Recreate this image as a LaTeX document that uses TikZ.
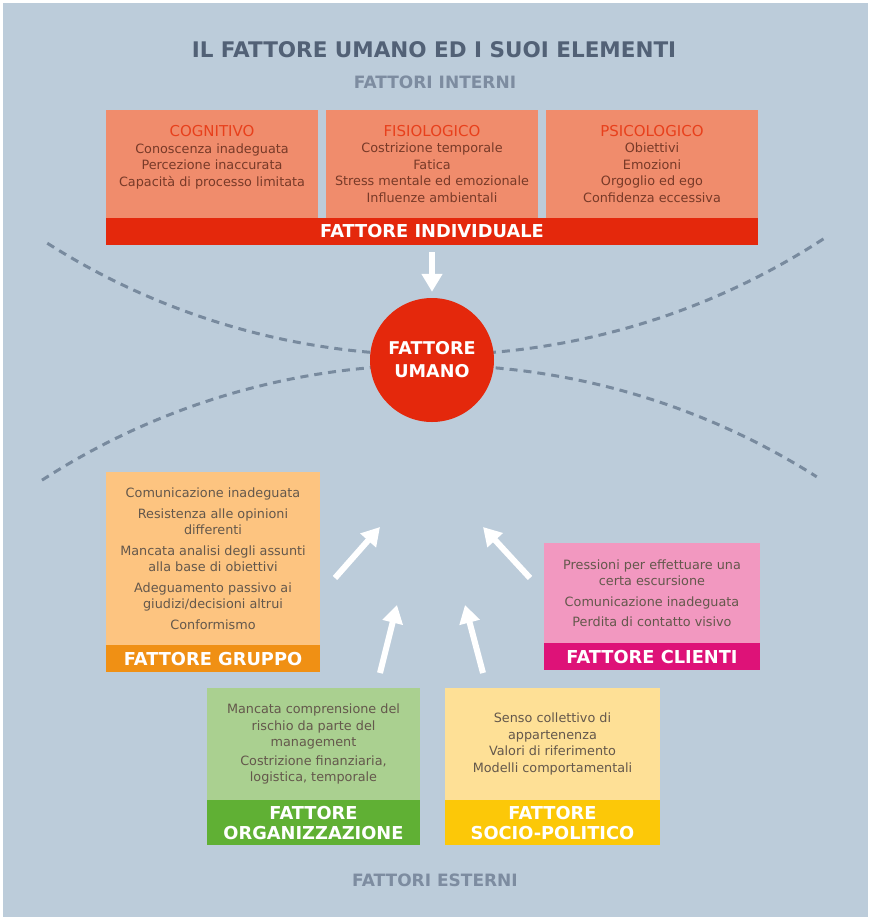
\documentclass[tikz,border=0pt]{standalone}
\usepackage{fontspec}
\setmainfont{DejaVu Sans}
\usetikzlibrary{arrows.meta, positioning}

\definecolor{sfondo}{RGB}{188,204,218}
\definecolor{blutitolo}{RGB}{82,97,118}
\definecolor{bluchiaro}{RGB}{125,140,160}
\definecolor{tratteggio}{RGB}{120,138,158}
\definecolor{salmone}{RGB}{240,140,108}
\definecolor{rosso}{RGB}{228,40,12}
\definecolor{rossotesto}{RGB}{232,64,28}
\definecolor{marrone}{RGB}{120,58,40}
\definecolor{pesca}{RGB}{253,196,128}
\definecolor{arancio}{RGB}{240,144,20}
\definecolor{rosa}{RGB}{242,152,192}
\definecolor{magenta}{RGB}{222,18,120}
\definecolor{verdino}{RGB}{170,208,144}
\definecolor{verde}{RGB}{96,176,52}
\definecolor{giallino}{RGB}{254,224,150}
\definecolor{giallo}{RGB}{252,200,8}
\definecolor{grigiotesto}{RGB}{100,88,76}

\newcommand{\testa}[1]{{\fontsize{15}{16.5}\selectfont\color{rossotesto}#1}}

\tikzset{voce/.style={rectangle, inner sep=0pt, align=center, text=grigiotesto, font=\fontsize{12.8}{16.5}\selectfont}}
\tikzset{interno/.style={voce, fill=salmone, text=marrone, minimum width=212pt, minimum height=108pt}}
\tikzset{fascia/.style={rectangle, inner sep=0pt, text=white, align=center, font=\bfseries\fontsize{17.8}{20}\selectfont}}
\tikzset{freccia/.style={draw=white, line width=6pt, -{Triangle[length=18pt, width=20pt]}}}
\tikzset{confine/.style={draw=tratteggio, line width=3pt, dash pattern=on 8pt off 6pt}}

\begin{document}
\begin{tikzpicture}[x=1pt, y=-1pt]
            \useasboundingbox (0,0) rectangle (870,919);
            \fill[white] (0,0) rectangle (870,919);
            \fill[sfondo] (3,3) rectangle (868,917);
            % titoli
            \node[font=\bfseries\fontsize{21.5}{24}\selectfont, text=blutitolo] (titolo) at (434,50) {IL FATTORE UMANO ED I SUOI ELEMENTI};
            \node[font=\bfseries\fontsize{17}{18}\selectfont, text=bluchiaro] (interni) at (435,82) {FATTORI INTERNI};
            \node[font=\bfseries\fontsize{17}{18}\selectfont, text=bluchiaro] (esterni) at (435,880) {FATTORI ESTERNI};
            % fattori interni
            \node[interno] (cognitivo) at (212,164)
                {\testa{COGNITIVO}\\Conoscenza inadeguata\\Percezione inaccurata\\Capacità di processo limitata\\ \mbox{}};
            \node[interno] (fisiologico) at (432,164)
                {\testa{FISIOLOGICO}\\Costrizione temporale\\Fatica\\Stress mentale ed emozionale\\Influenze ambientali};
            \node[interno] (psicologico) at (652,164)
                {\testa{PSICOLOGICO}\\Obiettivi\\Emozioni\\Orgoglio ed ego\\Confidenza eccessiva};
            \node[fascia, fill=rosso, minimum width=652pt, minimum height=27pt] (individuale) at (432,231.5) {FATTORE INDIVIDUALE};
            % confini
            \draw[confine] (432,-363) ++(122.4:718) arc[start angle=122.4, end angle=56.9, radius=718];
            \draw[confine] (432,1083) ++(-122.9:718) arc[start angle=-122.9, end angle=-57.6, radius=718];
            % centro
            \node[circle, fill=rosso, minimum size=124pt, inner sep=0pt, text=white, align=center,
                font=\bfseries\fontsize{17.6}{23}\selectfont] (umano) at (432,360) {FATTORE\\UMANO};
            \draw[freccia, shorten <=7pt, shorten >=6pt] (individuale.south) -- (umano.north);
            % fattori esterni
            \node[voce, fill=pesca, minimum width=214pt, minimum height=173pt] (gruppo) at (213,558.5)
                {Comunicazione inadeguata\\[4pt]Resistenza alle opinioni\\differenti\\[4pt]Mancata analisi degli assunti\\alla base di obiettivi\\[4pt]Adeguamento passivo ai\\giudizi/decisioni altrui\\[4pt]Conformismo};
            \node[fascia, fill=arancio, minimum width=214pt, minimum height=27pt, below=0pt of gruppo] (gruppobar) {FATTORE GRUPPO};
            \node[voce, fill=rosa, minimum width=216pt, minimum height=100pt] (clienti) at (652,593)
                {Pressioni per effettuare una\\certa escursione\\[4pt]Comunicazione inadeguata\\[4pt]Perdita di contatto visivo};
            \node[fascia, fill=magenta, minimum width=216pt, minimum height=27pt, below=0pt of clienti] (clientibar) {FATTORE CLIENTI};
            \node[voce, fill=verdino, minimum width=213pt, minimum height=112pt] (organizzazione) at (313.5,744)
                {Mancata comprensione del\\rischio da parte del\\management\\[2pt]Costrizione finanziaria,\\logistica, temporale};
            \node[fascia, fill=verde, minimum width=213pt, minimum height=45pt, below=0pt of organizzazione] (organizzazionebar) {FATTORE\\ORGANIZZAZIONE};
            \node[voce, fill=giallino, minimum width=215pt, minimum height=112pt] (socio) at (552.5,744)
                {\mbox{}\\[-6.5pt]Senso collettivo di\\appartenenza\\Valori di riferimento\\Modelli comportamentali};
            \node[fascia, fill=giallo, minimum width=215pt, minimum height=45pt, below=0pt of socio] (sociobar) {FATTORE\\SOCIO-POLITICO};
            % frecce verso il centro
            \coordinate (g0) at (335,578); \coordinate (g1) at (380,527);
            \coordinate (c0) at (530,578); \coordinate (c1) at (483,527);
            \coordinate (o0) at (380,673); \coordinate (o1) at (397,605);
            \coordinate (s0) at (483,673); \coordinate (s1) at (465,605);
            \foreach \a/\b in {g0/g1, c0/c1, o0/o1, s0/s1} {
                \draw[freccia] (\a) -- (\b);
            }
        \end{tikzpicture}
\end{document}
